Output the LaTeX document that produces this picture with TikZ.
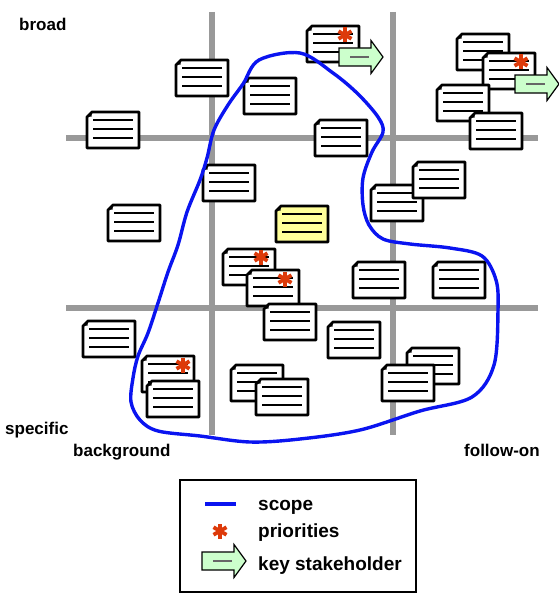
\documentclass[tikz,border=0pt]{standalone}
\usepackage{fontspec}
\setmainfont{Liberation Sans}
\definecolor{gridgray}{HTML}{999999}
\definecolor{scopeblue}{HTML}{0A14F0}
\definecolor{prioorange}{HTML}{DD3A0A}
\definecolor{stakegreen}{HTML}{CCFFCC}
\definecolor{notepaper}{HTML}{FFFF99}
\tikzset{
  pics/doc/.style={code={
    \draw[line width=2.8pt, line join=round, fill=#1] (5,0) -- (52,0) -- (52,36) -- (0,36) -- (0,5) -- cycle;
    \fill (0,5) -- (5,0) -- (4.5,4.5) -- cycle;
    \foreach \ly in {8,17,26} \draw[line width=2.2pt] (6,\ly) -- (46,\ly);
  }},
  pics/doc/.default=white,
  pics/prio/.style={code={
    \foreach \a in {90,30,-30} \draw[prioorange, line width=3.8pt] (\a:7.5) -- (\a+180:7.5);
  }},
  pics/stake/.style={code={
    \draw[line width=1.2pt, fill=stakegreen] (0,-9) -- (32,-9) -- (32,-16.5) -- (44,0) -- (32,16.5) -- (32,9) -- (0,9) -- cycle;
    \draw[line width=1.8pt, black!60] (11,0) -- (30,0);
  }},
  lbl/.style={font=\bfseries\fontsize{17}{20}\selectfont, anchor=base west, inner sep=0pt},
  key/.style={font=\bfseries\fontsize{19}{22}\selectfont, anchor=base west, inner sep=0pt},
}
\begin{document}
\begin{tikzpicture}[x=1pt,y=-1pt]
  \useasboundingbox (0,0) rectangle (558,594);
  % grid
  \draw[gridgray, line width=6pt]
    (212,12) -- (212,435) (393,12) -- (393,435)
    (66,138) -- (538,138) (66,308) -- (538,308);
  % documents
  \pic at (176,60) {doc};
  \pic at (244,78) {doc};
  \pic at (307,26) {doc};
  \pic at (87,112) {doc};
  \pic at (315,120) {doc};
  \pic at (457,34) {doc};
  \pic at (483,53) {doc};
  \pic at (437,85) {doc};
  \pic at (470,113) {doc};
  \pic at (203,165) {doc};
  \pic at (371,185) {doc};
  \pic at (413,162) {doc};
  \pic at (108,205) {doc};
  \pic at (276,206) {doc=notepaper};
  \pic at (223,249) {doc};
  \pic at (247,270) {doc};
  \pic at (264,304) {doc};
  \pic at (353,262) {doc};
  \pic at (433,262) {doc};
  \pic at (83,321) {doc};
  \pic at (328,322) {doc};
  \pic at (142,356) {doc};
  \pic at (147,381) {doc};
  \pic at (231,365) {doc};
  \pic at (256,379) {doc};
  \pic at (407,348) {doc};
  \pic at (382,365) {doc};
  % priorities
  \pic at (345,35) {prio};
  \pic at (521,62) {prio};
  \pic at (261,257) {prio};
  \pic at (285,279) {prio};
  \pic at (183,365) {prio};
  % key stakeholders
  \pic at (339,57) {stake};
  \pic at (515,84) {stake};
  % scope
  \draw[scopeblue, line width=3.4pt, line join=round] plot[smooth cycle, tension=0.55] coordinates {
    (259,60) (300,53) (333,73) (358,94) (378,117) (383,132) (372,152)
    (363,178) (363,205) (369,225) (383,239) (410,244) (450,248) (482,256)
    (496,280) (498,310) (494,365) (472,397) (420,411) (360,430) (300,439)
    (250,442) (200,436) (158,431) (140,420) (131,402) (133,378) (138,356)
    (148,333) (158,303) (168,272) (178,245) (187,212) (200,180) (207,158)
    (214,130) (228,105) (243,84)};
  % axis labels
  \node[lbl] (broad) at (19,31) {broad};
  \node[lbl] (specific) at (5,434) {specific};
  \node[lbl] (background) at (73,456) {background};
  \node[lbl] (followon) at (464,456) {follow-on};
  % legend
  \draw[line width=1.5pt] (180,480) rectangle (416,592);
  \draw[scopeblue, line width=3.4pt] (205,504) -- (236,504);
  \pic at (220,531) {prio};
  \pic at (202,561) {stake};
  \node[key] (scope) at (258,510) {scope};
  \node[key] (priorities) at (258,537) {priorities};
  \node[key] (stakeholder) at (258,570) {key stakeholder};
\end{tikzpicture}
\end{document}
